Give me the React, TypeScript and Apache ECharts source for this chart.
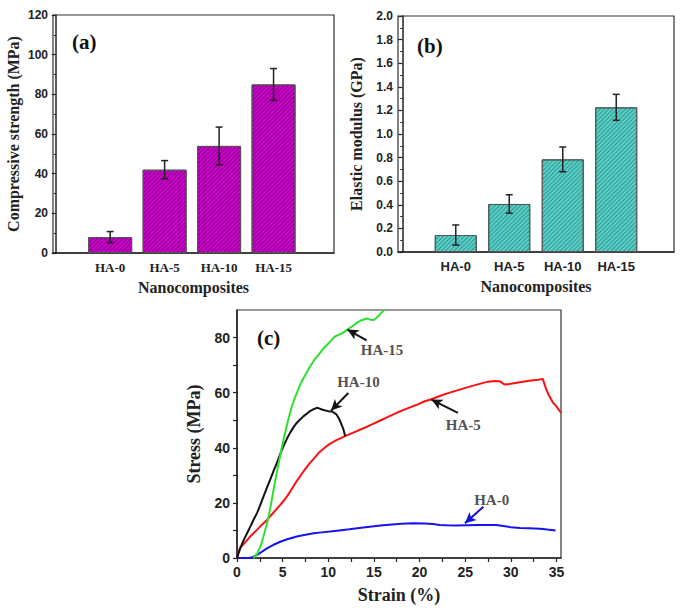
import React, { useEffect, useRef } from "react";
import * as echarts from "echarts";

// ---------- data ----------
const categories = ["HA-0", "HA-5", "HA-10", "HA-15"];
const strength = [8, 42, 54, 85];
const strengthErr = [2.8, 4.6, 9.5, 8];
const modulus = [0.144, 0.407, 0.785, 1.226];
const modulusErr = [0.085, 0.078, 0.105, 0.11];

const strengthTicks = [0, 20, 40, 60, 80, 100, 120];
const modulusTicks = [0, 0.2, 0.4, 0.6, 0.8, 1.0, 1.2, 1.4, 1.6, 1.8, 2.0];
const strainLabels = [0, 5, 10, 15, 20, 25, 30, 35];
const strainTicks = [0, 2.5, 5, 7.5, 10, 12.5, 15, 17.5, 20, 22.5, 25, 27.5, 30, 32.5, 35];
const stressLabels = [0, 20, 40, 60, 80];
const stressTicks = [0, 10, 20, 30, 40, 50, 60, 70, 80];

const ha0Curve = [
  [0, 0], [1.3, 0], [1.7, 0.3], [2.19, 1.1], [2.7, 2.2], [3.28, 3.5], [4.0, 4.8], [4.74, 5.9],
  [5.5, 6.8], [6.56, 7.8], [7.5, 8.4], [8.4, 9.0], [9.3, 9.3], [10.2, 9.6], [11.2, 10.0],
  [12.3, 10.4], [13.85, 11.1], [15.0, 11.5], [15.7, 11.8], [17.0, 12.2], [18.0, 12.4],
  [19.3, 12.6], [20.5, 12.5], [21.5, 12.3], [22.2, 12.0], [23.0, 11.9], [24.0, 11.8],
  [25.2, 11.9], [26.5, 12.0], [27.5, 12.0], [28.4, 12.0], [29.0, 11.7], [30.0, 11.2],
  [31.0, 10.9], [32.0, 10.8], [33.2, 10.6], [34.0, 10.3], [34.9, 10.0],
];
const ha5Curve = [
  [0, 0], [0.2, 2.5], [0.4, 4], [0.73, 5], [1.1, 6.5], [1.5, 8], [2.19, 10.2], [2.7, 12],
  [3.28, 13.8], [4.0, 16.5], [4.74, 19.3], [5.3, 21.5], [5.83, 24.1], [6.56, 28], [7.3, 31.5],
  [8.0, 34.5], [8.4, 36], [9.0, 38.3], [9.6, 40], [10.2, 41.5], [10.9, 42.8], [11.85, 44.2],
  [12.8, 45.6], [13.85, 47.1], [14.8, 48.5], [15.7, 49.9], [16.6, 51.3], [17.5, 52.7],
  [18.6, 54.2], [19.7, 55.6], [20.5, 56.8], [21.3, 57.6], [22.3, 58.9], [23.3, 60],
  [24.3, 61], [25.5, 62.2], [26.6, 63.2], [27.5, 64], [28.2, 64.2], [28.8, 64.1], [29.3, 63],
  [30.0, 63.2], [31.0, 63.8], [32.0, 64.3], [33.0, 64.7], [33.5, 65], [33.8, 62], [34.1, 59.5],
  [34.6, 56.5], [35.0, 55], [35.5, 52.7],
];
const ha10Curve = [
  [0, 0], [0.35, 3.5], [0.73, 6.5], [1.1, 9], [1.46, 11.4], [1.8, 13.8], [2.19, 16.3],
  [2.5, 18.8], [2.9, 22.3], [3.28, 25.5], [3.65, 28.5], [4.0, 31.5], [4.37, 34.5],
  [4.74, 37.8], [5.1, 40.6], [5.5, 43.5], [5.83, 45.5], [6.2, 47.5], [6.56, 49.1], [7.0, 50.5],
  [7.3, 51.5], [7.7, 52.5], [8.0, 53.3], [8.4, 54], [8.75, 54.5], [9.0, 54.3], [9.3, 53.9],
  [9.6, 53.6], [10.0, 53.3], [10.4, 53.2], [10.9, 52.1], [11.1, 51], [11.3, 49.7],
  [11.5, 48], [11.66, 46.7], [11.85, 44.2],
];
const ha15Curve = [
  [1.8, 0], [2.2, 1.5], [2.6, 4.5], [2.9, 7.8], [3.2, 11.5], [3.46, 15], [3.7, 19], [4.0, 24.7],
  [4.3, 30], [4.6, 35], [4.9, 40], [5.2, 44.5], [5.6, 50], [6.0, 55], [6.5, 59.5], [7.0, 63.5],
  [7.5, 66.5], [8.0, 69.5], [8.5, 72], [9.1, 74.4], [9.6, 76.5], [10.2, 78.5], [10.7, 80.3],
  [11.0, 80.8], [11.5, 81.5], [12.1, 82.9], [12.6, 84], [13.1, 85.3], [13.6, 86.2],
  [14.2, 86.9], [14.6, 86.5], [15.0, 86.4], [15.5, 87.8], [16.0, 89.6], [16.4, 91],
];

const annNames = ["HA-15", "HA-10", "HA-5", "HA-0"];
const annTextPos = [[15.9, 75.4], [13.3, 63.7], [24.8, 48.4], [27.9, 21.1]];
const annArrowFrom = [[14.2, 79.0], [12.2, 59.9], [24.2, 52.7], [27.0, 18.6]];
const annArrowTo = [[12.1, 82.9], [10.3, 53.5], [21.3, 57.5], [24.97, 12.6]];
const annArrowColors = ["#111", "#111", "#111", "#1010e0"];

// ---------- styles ----------
const SERIF = "'Liberation Serif', 'Times New Roman', serif";
const SANS = "'Liberation Sans', Arial, sans-serif";
const INK = "#222";

const errRender = (params: any, api: any) => {
  const x = api.value(0);
  const lo = api.coord([x, api.value(1)]);
  const hi = api.coord([x, api.value(2)]);
  const w = 3.5;
  const style = { stroke: INK, lineWidth: 1.5 };
  return {
    type: "group",
    children: [
      { type: "line", shape: { x1: lo[0], y1: lo[1], x2: hi[0], y2: hi[1] }, style },
      { type: "line", shape: { x1: hi[0] - w, y1: hi[1], x2: hi[0] + w, y2: hi[1] }, style },
      { type: "line", shape: { x1: lo[0] - w, y1: lo[1], x2: lo[0] + w, y2: lo[1] }, style },
    ],
  };
};

const gridBase = { show: true, borderColor: "#333", borderWidth: 1.2, backgroundColor: "transparent" };

const catAxis = (gridIndex: number, min: number, max: number, labelFont: string) => ({
  gridIndex,
  type: "value",
  min,
  max,
  splitLine: { show: false },
  axisLine: { show: true, lineStyle: { color: INK, width: 1.5 } },
  axisTick: { show: false },
  axisLabel: {
    customValues: [1, 2, 3, 4],
    formatter: (v: number) => categories[Math.round(v) - 1] ?? "",
    fontFamily: labelFont,
    fontWeight: "bold",
    fontSize: 13,
    color: INK,
    margin: 8,
  },
  name: "Nanocomposites",
  nameLocation: "middle",
  nameGap: 26,
  nameTextStyle: { fontFamily: SERIF, fontWeight: "bold", fontSize: 16, color: INK },
});

const barAxisY = (gridIndex: number, ticks: number[], name: string, nameGap: number, fmt: (v: number) => string) => ({
  gridIndex,
  type: "value",
  min: ticks[0],
  max: ticks[ticks.length - 1],
  interval: ticks[1] - ticks[0],
  splitLine: { show: false },
  axisLine: { show: true, lineStyle: { color: INK, width: 1.5 } },
  axisTick: { show: true, length: 4, lineStyle: { color: INK, width: 1.2 } },
  minorTick: { show: true, splitNumber: 2, length: 2, lineStyle: { color: INK, width: 1 } },
  axisLabel: { fontFamily: SANS, fontWeight: "bold", fontSize: 12, color: INK, margin: 5, formatter: fmt },
  name,
  nameLocation: "middle",
  nameGap,
  nameTextStyle: { fontFamily: SERIF, fontWeight: "bold", fontSize: 16, color: INK },
});

export default function App() {
  const ref = useRef<HTMLDivElement>(null);

  useEffect(() => {
    if (!ref.current) return;
    const chart = echarts.init(ref.current, null, { renderer: "svg" });

    const option: any = {
      animation: false,
      backgroundColor: "#ffffff",
      grid: [
        { ...gridBase, left: 53, top: 15, width: 281, height: 238 },
        { ...gridBase, left: 398, top: 16, width: 276, height: 236 },
        { ...gridBase, left: 237, top: 310, width: 324, height: 248 },
      ],
      xAxis: [
        catAxis(0, -0.05, 5.11, SERIF),
        catAxis(1, -0.08, 5.08, SANS),
        {
          gridIndex: 2,
          type: "value",
          min: 0,
          max: 35.5,
          splitLine: { show: false },
          axisLine: { show: true, lineStyle: { color: INK, width: 1.5 } },
          axisTick: { show: true, length: 4, customValues: strainTicks, lineStyle: { color: INK, width: 1.2 } },
          axisLabel: { customValues: strainLabels, fontFamily: SANS, fontWeight: "bold", fontSize: 14, color: INK, margin: 7 },
          name: "Strain (%)",
          nameLocation: "middle",
          nameGap: 28,
          nameTextStyle: { fontFamily: SERIF, fontWeight: "bold", fontSize: 18, color: INK },
        },
      ],
      yAxis: [
        barAxisY(0, strengthTicks, "Compressive strength (MPa)", 32, (v) => String(v)),
        barAxisY(1, modulusTicks, "Elastic modulus (GPa)", 34, (v) => v.toFixed(1)),
        {
          gridIndex: 2,
          type: "value",
          min: 0,
          max: 90,
          splitLine: { show: false },
          axisLine: { show: true, lineStyle: { color: INK, width: 1.5 } },
          axisTick: { show: true, length: 4, customValues: stressTicks, lineStyle: { color: INK, width: 1.2 } },
          axisLabel: { customValues: stressLabels, fontFamily: SANS, fontWeight: "bold", fontSize: 14, color: INK, margin: 7 },
          name: "Stress (MPa)",
          nameLocation: "middle",
          nameGap: 34,
          nameTextStyle: { fontFamily: SERIF, fontWeight: "bold", fontSize: 18, color: INK },
        },
      ],
      series: [
        {
          type: "bar",
          xAxisIndex: 0,
          yAxisIndex: 0,
          barWidth: 44,
          silent: true,
          data: categories.map((_, i) => [i + 1, strength[i]]),
          itemStyle: {
            color: "#cc00cc",
            borderColor: "#555",
            borderWidth: 1,
            decal: { symbol: "rect", symbolSize: 1, dashArrayX: [[1, 0]], dashArrayY: [1, 2], rotation: -Math.PI / 4, color: "rgba(100,0,100,0.65)" },
          },
        },
        {
          type: "custom",
          xAxisIndex: 0,
          yAxisIndex: 0,
          silent: true,
          z: 10,
          encode: { x: 0, y: [1, 2] },
          renderItem: errRender,
          data: categories.map((_, i) => [i + 1, strength[i] - strengthErr[i], strength[i] + strengthErr[i]]),
        },
        {
          type: "bar",
          xAxisIndex: 1,
          yAxisIndex: 1,
          barWidth: 42,
          silent: true,
          data: categories.map((_, i) => [i + 1, modulus[i]]),
          itemStyle: {
            color: "#5ccfc7",
            borderColor: "#555",
            borderWidth: 1,
            decal: { symbol: "rect", symbolSize: 1, dashArrayX: [[1, 0]], dashArrayY: [1, 2], rotation: -Math.PI / 4, color: "rgba(0,100,95,0.5)" },
          },
        },
        {
          type: "custom",
          xAxisIndex: 1,
          yAxisIndex: 1,
          silent: true,
          z: 10,
          encode: { x: 0, y: [1, 2] },
          renderItem: errRender,
          data: categories.map((_, i) => [i + 1, modulus[i] - modulusErr[i], modulus[i] + modulusErr[i]]),
        },
        ...[
          { name: "HA-0", data: ha0Curve, color: "#1414f0" },
          { name: "HA-5", data: ha5Curve, color: "#ff1010" },
          { name: "HA-10", data: ha10Curve, color: "#111111" },
          { name: "HA-15", data: ha15Curve, color: "#2ee02e" },
        ].map((s) => ({
          type: "line",
          name: s.name,
          xAxisIndex: 2,
          yAxisIndex: 2,
          data: s.data,
          showSymbol: false,
          silent: true,
          clip: true,
          lineStyle: { color: s.color, width: 2 },
          itemStyle: { color: s.color },
        })),
        {
          type: "scatter",
          xAxisIndex: 2,
          yAxisIndex: 2,
          silent: true,
          symbolSize: 0,
          z: 20,
          data: annNames.map((n, i) => ({ value: annTextPos[i], name: n })),
          label: {
            show: true,
            position: "inside",
            formatter: (p: any) => p.name,
            fontFamily: SERIF,
            fontWeight: "bold",
            fontSize: 15,
            color: INK,
          },
          markLine: {
            silent: true,
            symbol: ["none", "arrow"],
            symbolSize: [8, 11],
            label: { show: false },
            data: annNames.map((_, i) => [
              { coord: annArrowFrom[i], lineStyle: { color: annArrowColors[i], width: 2, type: "solid" }, itemStyle: { color: annArrowColors[i] } },
              { coord: annArrowTo[i] },
            ]),
          },
        },
      ],
      graphic: [
        { type: "text", left: 72, top: 31, style: { text: "(a)", font: `bold 21px ${SERIF}`, fill: "#111" } },
        { type: "text", left: 417, top: 35, style: { text: "(b)", font: `bold 21px ${SERIF}`, fill: "#111" } },
        { type: "text", left: 257, top: 327, style: { text: "(c)", font: `bold 21px ${SERIF}`, fill: "#111" } },
      ],
    };

    chart.setOption(option);
    return () => chart.dispose();
  }, []);

  return (
    <div
      ref={ref}
      style={{ position: "fixed", left: 0, top: 0, width: 685, height: 610, background: "#fff" }}
    />
  );
}
